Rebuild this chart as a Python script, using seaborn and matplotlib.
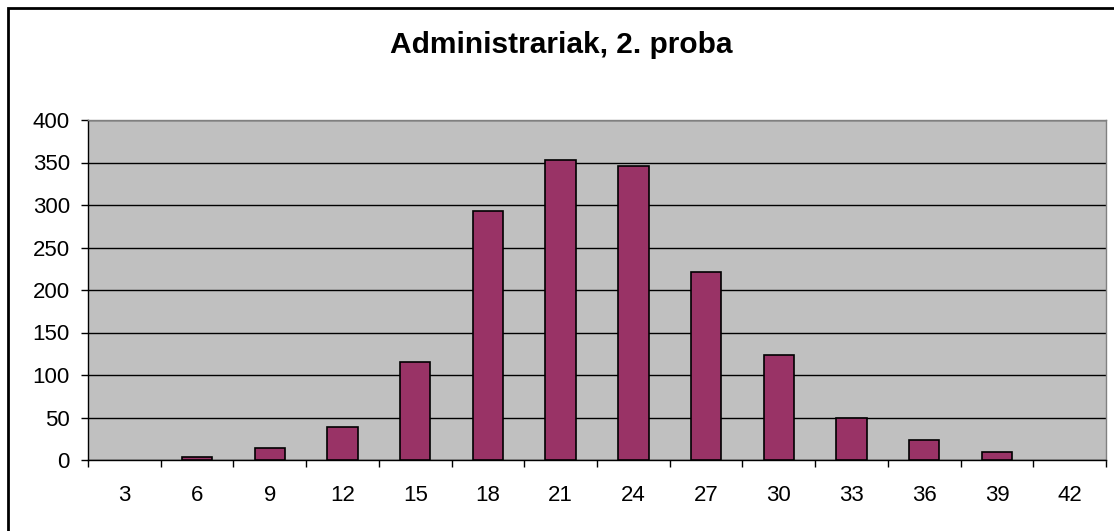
import numpy as np
import pandas as pd
import seaborn as sns
import matplotlib.pyplot as plt
from matplotlib.patches import Rectangle

# datuak
kategoriak = ["3", "6", "9", "12", "15", "18", "21", "24", "27", "30", "33", "36", "39", "42"]
balioak = [0, 3, 14, 39, 115, 293, 353, 346, 221, 124, 50, 23, 10, 0]
y_tikak = [0, 50, 100, 150, 200, 250, 300, 350, 400]

df = pd.DataFrame({"kategoria": kategoriak, "balioa": balioak})

sns.set_style("white")
plt.rcParams["font.family"] = ["Liberation Sans", "DejaVu Sans"]
plt.rcParams["text.color"] = "black"
plt.rcParams["xtick.color"] = "black"
plt.rcParams["ytick.color"] = "black"
plt.rcParams["axes.labelcolor"] = "black"

fig = plt.figure(figsize=(11.14, 5.31), dpi=100)
ax = fig.add_axes([88 / 1114, 1 - 460 / 531, (1106 - 88) / 1114, (460 - 120) / 531])
ax.set_facecolor("#C0C0C0")

sns.barplot(data=df, x="kategoria", y="balioa", order=kategoriak, color="#993366",
            saturation=1, width=0.42, edgecolor="black", linewidth=1.2, ax=ax, zorder=3)

# balio hutseko barrak ez marraztu
for p in ax.patches:
    if p.get_height() == 0:
        p.set_visible(False)

ax.set_xlim(-0.5, len(kategoriak) - 0.5)
ax.set_ylim(0, 400)
ax.set_yticks(y_tikak)
ax.yaxis.grid(True, color="black", linewidth=1, zorder=1)
ax.set_axisbelow(True)

# x tikak kategorien artean
ax.set_xticks(np.arange(len(kategoriak)))
ax.set_xticklabels(kategoriak)
ax.set_xticks(np.arange(-0.5, len(kategoriak)), minor=True)
ax.tick_params(axis="x", which="major", length=0, labelsize=16, pad=18)
ax.tick_params(axis="x", which="minor", length=5, width=1, color="black", direction="out")
ax.tick_params(axis="y", length=5, width=1, color="black", direction="out", labelsize=16, pad=8)
ax.xaxis.set_ticks_position("bottom")
ax.yaxis.set_ticks_position("left")

ax.set_xlabel("")
ax.set_ylabel("")

for s in ["top", "right"]:
    ax.spines[s].set_color("#808080")
    ax.spines[s].set_linewidth(1)
for s in ["left", "bottom"]:
    ax.spines[s].set_color("black")
    ax.spines[s].set_linewidth(1)

fig.text(0.504, 1 - 53 / 531, "Administrariak, 2. proba", ha="center", va="baseline",
         fontsize=21.5, fontweight="bold")

# grafikoaren markoa
fig.patches.append(Rectangle((8 / 1114, -0.05), 1.2, 1 - 8 / 531 + 0.05,
                             transform=fig.transFigure, fill=False,
                             edgecolor="black", linewidth=2))

fig.savefig("out.png", dpi=100, facecolor="white")
